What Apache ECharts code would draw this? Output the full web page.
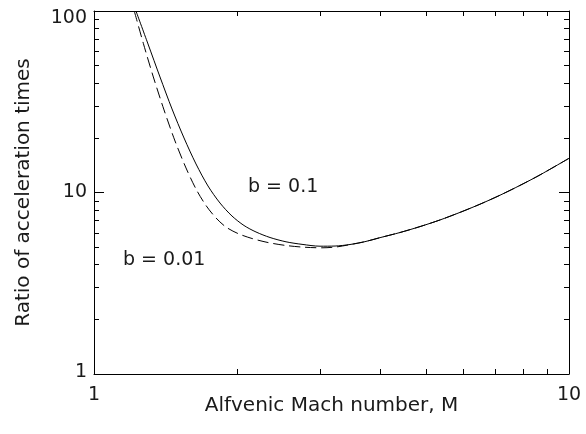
<!DOCTYPE html>
<html><head><meta charset="utf-8">
<script src="https://cdn.jsdelivr.net/npm/echarts@6/dist/echarts.min.js"></script>
<style>html,body{margin:0;padding:0;background:#fff}#c{width:586px;height:434px}</style>
</head><body><div id="c"></div>
<script>
// b = 0.1 (solid)
const machSolid  = [1.2256, 1.2993, 1.3770, 1.4597, 1.5471, 1.6397, 1.7378, 1.8420, 1.9521, 2.0691, 2.1930, 2.3475, 2.5367, 2.7412, 2.9914, 3.2172, 3.4590, 3.7196, 4.0015, 4.4081, 4.8578, 5.3520, 5.8957, 6.4952, 7.1565, 7.8844, 8.6880, 10];
const ratioSolid = [100, 65.8, 43.3, 28.85, 19.97, 14.36, 10.86, 8.75, 7.42, 6.58, 6.06, 5.65, 5.35, 5.18, 5.06, 5.07, 5.17, 5.36, 5.64, 6.02, 6.49, 7.06, 7.77, 8.62, 9.66, 10.94, 12.50, 15.43];
// b = 0.01 (dashed)
const machDashed  = [1.2156, 1.2700, 1.3333, 1.4042, 1.4810, 1.5621, 1.6397, 1.7210, 1.8066, 1.8963, 2.0100, 2.1507, 2.3249, 2.5367, 2.7679, 3.0200, 3.2328, 3.4590, 3.7196, 4.0015, 4.4081, 4.8578, 5.3520, 5.8957, 6.4952, 7.1565, 7.8844, 8.6880, 10];
const ratioDashed = [100, 66.4, 43.3, 28.5, 19.22, 13.65, 10.45, 8.48, 7.24, 6.45, 5.94, 5.58, 5.30, 5.105, 4.996, 4.958, 5.009, 5.164, 5.36, 5.64, 6.02, 6.49, 7.06, 7.77, 8.62, 9.66, 10.94, 12.50, 15.43];

const xTickLabels = [1, 10];
const yTickLabels = [1, 10, 100];
const xMinorTicks = [2, 3, 4, 5, 6, 7, 8, 9];
const yMinorTicks = [2, 3, 4, 5, 6, 7, 8, 9, 20, 30, 40, 50, 60, 70, 80, 90];

const labelSolid = 'b = 0.1';
const labelDashed = 'b = 0.01';
const xTitle = 'Alfvenic Mach number, M';
const yTitle = 'Ratio of acceleration times';

const FONT = 'DejaVu Sans';
const INK = '#000';
const TXT = '#1a1a1a';

const xMin = xTickLabels[0], xMax = xTickLabels[xTickLabels.length - 1];
const yMin = yTickLabels[0], yMax = yTickLabels[yTickLabels.length - 1];

function majorAxis(type, pos, showLabels, extra) {
  return Object.assign({
    type: 'log', logBase: 10, position: pos,
    min: type === 'x' ? xMin : yMin, max: type === 'x' ? xMax : yMax,
    axisLine: { show: true, onZero: false, lineStyle: { color: INK, width: 1 } },
    axisTick: { show: true, inside: true, length: 10, lineStyle: { color: INK, width: 1 } },
    minorTick: { show: false },
    splitLine: { show: false },
    axisLabel: { show: showLabels }
  }, extra || {});
}
function minorAxis(type, pos) {
  const vals = (type === 'x' ? xMinorTicks : yMinorTicks).map(v => Math.log10(v));
  return {
    type: 'value', position: pos,
    min: 0, max: type === 'x' ? Math.log10(xMax / xMin) : Math.log10(yMax / yMin),
    axisLine: { show: false, onZero: false },
    axisTick: { show: true, inside: true, length: 5, customValues: vals, lineStyle: { color: INK, width: 1 } },
    splitLine: { show: false },
    axisLabel: { show: false }
  };
}

const chart = echarts.init(document.getElementById('c'), null, { renderer: 'canvas' });
chart.setOption({
  animation: false,
  backgroundColor: '#fff',
  grid: { left: 94, right: 17, top: 11, bottom: 60, containLabel: false },
  xAxis: [
    majorAxis('x', 'bottom', true, {
      axisLabel: { show: true, margin: 12, fontSize: 19, fontFamily: FONT, color: TXT },
      name: xTitle, nameLocation: 'middle', nameGap: 22, nameMoveOverlap: false,
      nameTextStyle: { fontSize: 20, fontFamily: FONT, color: TXT }
    }),
    minorAxis('x', 'bottom'),
    majorAxis('x', 'top', false),
    minorAxis('x', 'top')
  ],
  yAxis: [
    majorAxis('y', 'left', true, {
      axisLabel: {
        show: true, margin: 7, fontSize: 19, fontFamily: FONT, color: TXT,
        formatter: function (v) {
          if (v === yMax) return '{t|' + v + '}';
          if (v === yMin) return '{b|' + v + '}';
          return String(v);
        },
        rich: {
          t: { fontSize: 19, fontFamily: FONT, color: TXT, padding: [14, 0, 0, 0] },
          b: { fontSize: 19, fontFamily: FONT, color: TXT, padding: [0, 0, 4, 0] }
        }
      },
      name: yTitle, nameLocation: 'middle', nameGap: 60, nameMoveOverlap: false,
      nameTextStyle: { fontSize: 20, fontFamily: FONT, color: TXT }
    }),
    minorAxis('y', 'left'),
    majorAxis('y', 'right', false),
    minorAxis('y', 'right')
  ],
  series: [
    {
      type: 'line', name: labelSolid, xAxisIndex: 0, yAxisIndex: 0,
      data: machSolid.map((m, i) => [m, ratioSolid[i]]),
      showSymbol: false, smooth: 0.3, clip: true,
      lineStyle: { color: INK, width: 1 }
    },
    {
      type: 'line', name: labelDashed, xAxisIndex: 0, yAxisIndex: 0,
      data: machDashed.map((m, i) => [m, ratioDashed[i]]),
      showSymbol: false, smooth: 0.3, clip: true,
      lineStyle: { color: INK, width: 1, type: [11, 5] }
    }
  ],
  graphic: [
    { type: 'text', left: 248, top: 178, style: { text: labelSolid, fontSize: 19, fontFamily: FONT, fill: TXT } },
    { type: 'text', left: 123, top: 251, style: { text: labelDashed, fontSize: 19, fontFamily: FONT, fill: TXT } }
  ]
});
</script>
</body></html>
